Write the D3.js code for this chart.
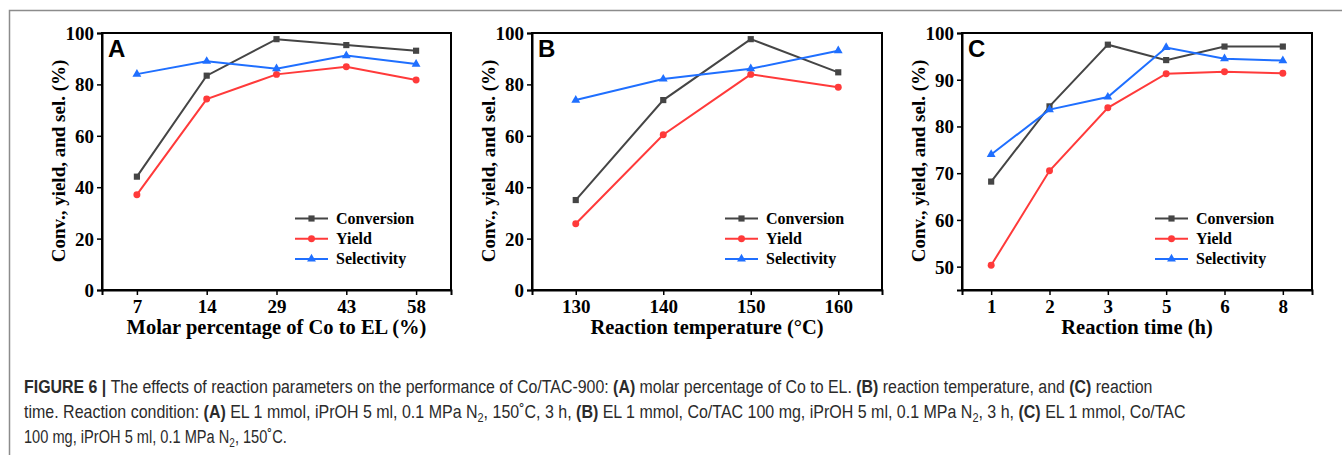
<!DOCTYPE html>
<html>
<head>
<meta charset="utf-8">
<script src="https://cdn.jsdelivr.net/npm/d3@7"></script>
<style>
  body { margin: 0; background: #fff; }
  svg { display: block; }
</style>
</head>
<body>
<svg id="fig" width="1342" height="455"></svg>
<script>
// ---- data ----
var seriesNames = ["Conversion", "Yield", "Selectivity"];

var catsA = ["7", "14", "29", "43", "58"];
var convA = [44.1, 83.4, 97.6, 95.3, 93.1];
var yieldA = [37.1, 74.3, 83.9, 86.9, 81.7];
var selA = [84.0, 89.0, 86.1, 91.2, 87.9];

var catsB = ["130", "140", "150", "160"];
var convB = [35.0, 73.9, 97.6, 84.7];
var yieldB = [25.8, 60.4, 83.9, 78.9];
var selB = [73.9, 82.1, 86.1, 93.1];

var catsC = ["1", "2", "3", "5", "6", "8"];
var convC = [68.2, 84.3, 97.5, 94.2, 97.1, 97.1];
var yieldC = [50.3, 70.5, 84.0, 91.3, 91.7, 91.4];
var selC = [74.0, 83.6, 86.3, 96.9, 94.5, 94.1];

var ticksAB = [0, 20, 40, 60, 80, 100];
var ticksC = [50, 60, 70, 80, 90, 100];

var colors = ["#454545", "#ff3a3a", "#1f6fff"];
var serif = "'Liberation Serif', 'Times New Roman', serif";

var svg = d3.select("#fig");

// outer frame (top + left only)
svg.append("path")
  .attr("d", "M9.5,455 L9.5,10.5 L1342,10.5")
  .attr("fill", "none").attr("stroke", "#8c8c8c").attr("stroke-width", 1.5);

function drawPanel(opt) {
  var x = d3.scalePoint().domain(opt.cats).range([opt.left, opt.right]).padding(0.5);
  var y = d3.scaleLinear().domain(opt.ydom).range([290, 33]);
  var g = svg.append("g");

  // frame box
  g.append("rect")
    .attr("x", opt.left).attr("y", 33)
    .attr("width", opt.right - opt.left).attr("height", 257)
    .attr("fill", "none").attr("stroke", "#000").attr("stroke-width", 2);

  var xa = g.append("g").attr("transform", "translate(0,290)")
    .call(d3.axisBottom(x).tickSize(5).tickPadding(5));
  var ya = g.append("g").attr("transform", "translate(" + opt.left + ",0)")
    .call(d3.axisLeft(y).tickValues(opt.ticks).tickSize(5).tickPadding(3));
  [xa, ya].forEach(function(a) {
    a.select(".domain").attr("stroke-width", 2);
    a.selectAll(".tick line").attr("stroke-width", 1.5);
    a.selectAll("text")
      .attr("font-family", serif).attr("font-weight", "bold")
      .attr("font-size", 19).attr("fill", "#000");
  });
  ya.selectAll("text").attr("dy", "0.34em");

  // axis titles
  g.append("text")
    .attr("x", (opt.left + opt.right) / 2).attr("y", 334)
    .attr("text-anchor", "middle")
    .attr("font-family", serif).attr("font-weight", "bold").attr("font-size", 20.5)
    .text(opt.xtitle);
  g.append("text")
    .attr("transform", "translate(" + (opt.left - 37) + ",161) rotate(-90)")
    .attr("text-anchor", "middle")
    .attr("font-family", serif).attr("font-weight", "bold").attr("font-size", 19)
    .text("Conv., yield, and sel. (%)");

  // panel letter
  g.append("text")
    .attr("x", opt.left + 6).attr("y", 57)
    .attr("font-family", "'Liberation Sans', Arial, sans-serif")
    .attr("font-weight", "bold").attr("font-size", 24)
    .text(opt.letter);

  var line = d3.line()
    .x(function(d, i) { return x(opt.cats[i]); })
    .y(function(d) { return y(d); });

  opt.series.forEach(function(vals, s) {
    g.append("path").datum(vals)
      .attr("d", line).attr("fill", "none")
      .attr("stroke", colors[s]).attr("stroke-width", 2);
    var sym = [d3.symbolSquare, d3.symbolCircle, d3.symbolTriangle][s];
    g.selectAll(".m" + s).data(vals).enter().append("path")
      .attr("transform", function(d, i) { return "translate(" + x(opt.cats[i]) + "," + y(d) + ")"; })
      .attr("d", d3.symbol().type(sym).size(s == 2 ? 34 : 38))
      .attr("fill", colors[s]);
  });

  // legend
  var lg = g.selectAll(".legend").data(seriesNames).enter().append("g")
    .attr("class", "legend")
    .attr("transform", function(d, i) { return "translate(" + opt.legX + "," + (218.5 + i * 20.2) + ")"; });
  lg.append("line")
    .attr("x1", 0).attr("x2", 33)
    .attr("stroke", function(d, i) { return colors[i]; }).attr("stroke-width", 2);
  lg.append("path")
    .attr("transform", "translate(16.5,0)")
    .attr("d", function(d, i) {
      return d3.symbol().type([d3.symbolSquare, d3.symbolCircle, d3.symbolTriangle][i]).size(i == 2 ? 34 : 38)();
    })
    .attr("fill", function(d, i) { return colors[i]; });
  lg.append("text")
    .attr("x", 41).attr("dy", "0.33em")
    .attr("font-family", serif).attr("font-weight", "bold").attr("font-size", 16)
    .text(function(d) { return d; });
}

drawPanel({ letter: "A", left: 102, right: 451, cats: catsA, ydom: [0, 100], ticks: ticksAB,
  series: [convA, yieldA, selA], legX: 295, xtitle: "Molar percentage of Co to EL (%)" });
drawPanel({ letter: "B", left: 532, right: 882, cats: catsB, ydom: [0, 100], ticks: ticksAB,
  series: [convB, yieldB, selB], legX: 725, xtitle: "Reaction temperature (\u00B0C)" });
drawPanel({ letter: "C", left: 962, right: 1312, cats: catsC, ydom: [45, 100], ticks: ticksC,
  series: [convC, yieldC, selC], legX: 1155, xtitle: "Reaction time (h)" });

// ---- caption ----
var capLines = [
  { base: 393, width: 1129, parts: [
    ["b", "FIGURE 6 | "], ["n", "The effects of reaction parameters on the performance of Co/TAC-900: "],
    ["b", "(A)"], ["n", " molar percentage of Co to EL. "], ["b", "(B)"], ["n", " reaction temperature, and "],
    ["b", "(C)"], ["n", " reaction"]] },
  { base: 418, width: 1163, parts: [
    ["n", "time. Reaction condition: "], ["b", "(A)"], ["n", " EL 1 mmol, iPrOH 5 ml, 0.1 MPa N"], ["s", "2"],
    ["n", ", 150\u02DAC, 3 h, "], ["b", "(B)"], ["n", " EL 1 mmol, Co/TAC 100 mg, iPrOH 5 ml, 0.1 MPa N"], ["s", "2"],
    ["n", ", 3 h, "], ["b", "(C)"], ["n", " EL 1 mmol, Co/TAC"]] },
  { base: 443, width: 263, parts: [
    ["n", "100 mg, iPrOH 5 ml, 0.1 MPa N"], ["s", "2"], ["n", ", 150\u02DAC."]] }
];

capLines.forEach(function(ln) {
  var t = svg.append("text")
    .attr("x", 0).attr("y", 0)
    .attr("font-family", "'Liberation Sans', Arial, sans-serif")
    .attr("font-size", 19).attr("fill", "#2b2b2b");
  ln.parts.forEach(function(p) {
    var ts = t.append("tspan").text(p[1]);
    if (p[0] == "b") ts.attr("font-weight", "bold");
    if (p[0] == "s") { ts.attr("font-size", 13).attr("baseline-shift", "-4"); }
  });
  var w = t.node().getComputedTextLength();
  t.attr("transform", "translate(24," + ln.base + ") scale(" + (ln.width / w) + ",1)");
});
</script>
</body>
</html>
